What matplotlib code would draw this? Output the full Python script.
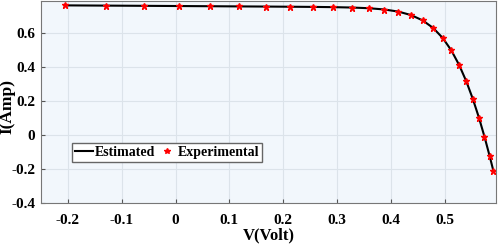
import numpy as np
import matplotlib.pyplot as plt

plt.rcParams['font.family'] = ['Liberation Serif', 'DejaVu Serif']
plt.rcParams['font.weight'] = 'bold'

# measured I-V data (experimental points)
v_exp = [-0.2057, -0.1291, -0.0588, 0.0057, 0.0646, 0.1185, 0.1678, 0.2132,
         0.2545, 0.2924, 0.3269, 0.3585, 0.3873, 0.4137, 0.4373, 0.4590,
         0.4784, 0.4960, 0.5119, 0.5265, 0.5398, 0.5521, 0.5633, 0.5736,
         0.5833, 0.5900]
i_exp = [0.7640, 0.7620, 0.7605, 0.7605, 0.7600, 0.7590, 0.7570, 0.7570,
         0.7555, 0.7540, 0.7505, 0.7465, 0.7385, 0.7280, 0.7065, 0.6755,
         0.6320, 0.5730, 0.4990, 0.4130, 0.3165, 0.2120, 0.1035, -0.0100,
         -0.1230, -0.2100]
# estimated model curve
v_est = v_exp
i_est = [0.7641, 0.7627, 0.7614, 0.7602, 0.7591, 0.7580, 0.7571, 0.7561,
         0.7551, 0.7537, 0.7514, 0.7474, 0.7401, 0.7274, 0.7070, 0.6753,
         0.6308, 0.5723, 0.4998, 0.4135, 0.3172, 0.2120, 0.1029, -0.0094,
         -0.1248, -0.2091]

fig = plt.figure(figsize=(4.98, 2.44), dpi=100)
ax = fig.add_axes([0.082, 0.168, 0.914, 0.828])
ax.set_facecolor('#F2F7FC')

ax.plot(v_est, i_est, 'k-', lw=1.5, label='Estimated')
ax.plot(v_exp, i_exp, '*', color='red', ms=5, mec='red', label='Experimental')

ax.set_xlim(-0.25, 0.595)
ax.set_ylim(-0.4, 0.79)
ax.set_xticks([-0.2, -0.1, 0, 0.1, 0.2, 0.3, 0.4, 0.5])
ax.set_xticklabels(['-0.2', '-0.1', '0', '0.1', '0.2', '0.3', '0.4', '0.5'])
ax.set_yticks([-0.4, -0.2, 0, 0.2, 0.4, 0.6])
ax.set_yticklabels(['-0.4', '-0.2', '0', '0.2', '0.4', '0.6'])
ax.grid(True, color='#DCE3EA', lw=0.8)
ax.set_axisbelow(True)
ax.tick_params(direction='in', length=3, labelsize=11, color='#555555')
ax.tick_params(axis='x', pad=8)
ax.tick_params(axis='y', pad=4)
for s in ax.spines.values():
    s.set_color('#777777')
    s.set_linewidth(0.8)

ax.set_xlabel('V(Volt)', fontsize=12, fontweight='bold', labelpad=0)
ax.set_ylabel('I(Amp)', fontsize=12.5, fontweight='bold', va='center')
ax.yaxis.set_label_coords(-0.074, 0.48)

ax.legend(loc='center left', bbox_to_anchor=(0.068, 0.25), ncol=2, fontsize=10,
          frameon=True, fancybox=False, edgecolor='#666666', framealpha=1,
          handlelength=1.3, handletextpad=0.15, columnspacing=0.2,
          borderpad=0.2, borderaxespad=0, markerscale=0.8)

fig.savefig('out.png', dpi=100)
